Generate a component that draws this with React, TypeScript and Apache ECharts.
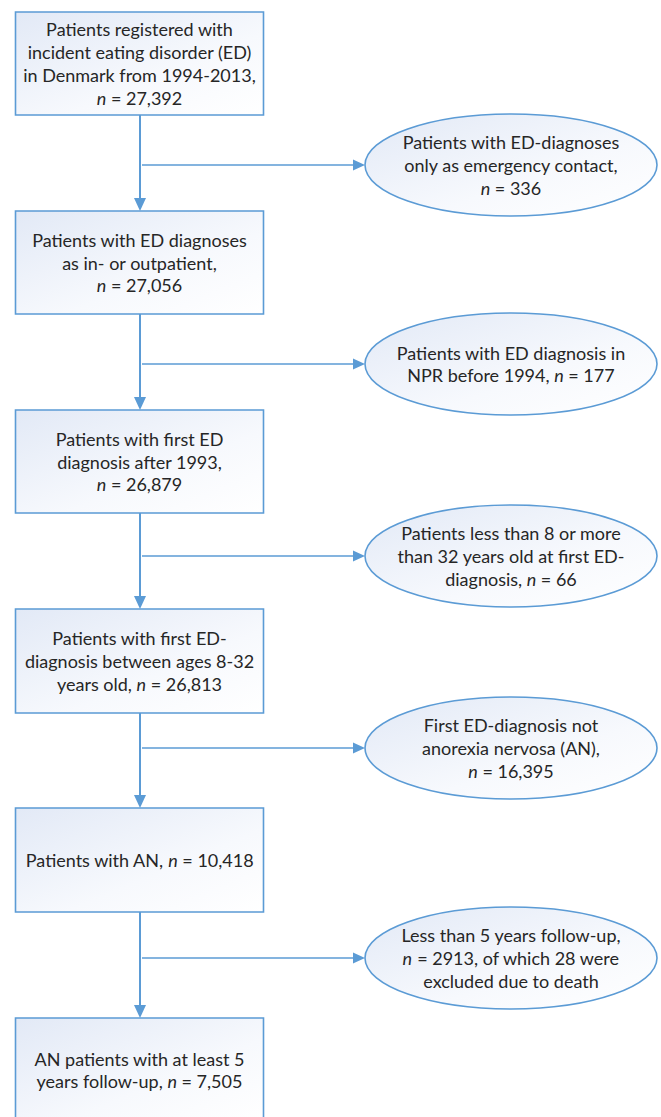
import React, { useEffect, useRef } from "react";
import * as echarts from "echarts";

const W = 661;
const H = 1117;

// ---- data ----
const mainLines: string[][] = [
  ["Patients registered with", "incident eating disorder (ED)", "in Denmark from 1994-2013,", "{i|n} = #"],
  ["Patients with ED diagnoses", "as in- or outpatient,", "{i|n} = #"],
  ["Patients with first ED", "diagnosis after 1993,", "{i|n} = #"],
  ["Patients with first ED-", "diagnosis between ages 8-32", "years old, {i|n} = #"],
  ["Patients with AN, {i|n} = #"],
  ["AN patients with at least 5", "years follow-up, {i|n} = #"],
];
const mainCounts = [27392, 27056, 26879, 26813, 10418, 7505];

const exclLines: string[][] = [
  ["Patients with ED-diagnoses", "only as emergency contact,", "{i|n} = #"],
  ["Patients with ED diagnosis in", "NPR before 1994, {i|n} = #"],
  ["Patients less than 8 or more", "than 32 years old at first ED-", "diagnosis, {i|n} = #"],
  ["First ED-diagnosis not", "anorexia nervosa (AN),", "{i|n} = #"],
  ["Less than 5 years follow-up,", "{i|n} = #, of which 28 were", "excluded due to death"],
];
const exclCounts = [336, 177, 66, 16395, 2913];
const exclUseSeparator = [true, true, true, true, false];

// ---- layout (axis units = pixels) ----
const BOX_X0 = 15.5;
const BOX_X1 = 263.5;
const STEM_X = 140;
const boxTop = [12, 211, 410, 609, 808, 1018];
const boxH = [103, 103, 103, 104, 104, 104];
const ELL_CX = 511;
const ELL_RX = 146;
const ELL_RY = 51;
const ellCy = [165, 364, 556, 748, 958];

// ---- style ----
const BLUE = "#5b9bd5";
const TEXT = "#262626";
const FONT = "Lato, 'Open Sans', sans-serif";
const FS = 18;
const LH = 22.8;

const fmt = (v: number, sep: boolean) => (sep ? v.toLocaleString("en-US") : String(v));

const gradient = () =>
  new echarts.graphic.LinearGradient(0, 0, 1, 1, [
    { offset: 0, color: "#e2e9f6" },
    { offset: 0.6, color: "#f7f9fd" },
    { offset: 1, color: "#ffffff" },
  ]);

const textStyle = (text: string, x: number, y: number) => ({
  text,
  x,
  y,
  align: "center",
  verticalAlign: "middle",
  fontFamily: FONT,
  fontSize: FS,
  fill: TEXT,
  lineHeight: LH,
  rich: {
    i: { fontStyle: "italic", fontFamily: FONT, fontSize: FS, fill: TEXT, lineHeight: LH },
  },
});

const option = {
  animation: false,
  grid: { left: 0, right: 0, top: 0, bottom: 0 },
  xAxis: { type: "value", min: 0, max: W, show: false },
  yAxis: { type: "value", min: 0, max: H, inverse: true, show: false },
  series: [
    {
      type: "custom",
      coordinateSystem: "cartesian2d",
      data: mainLines.map((_, i) => [i, 0]),
      renderItem: (_params: any, api: any) => {
        const i = api.value(0) as number;
        const p0 = api.coord([BOX_X0, boxTop[i]]);
        const p1 = api.coord([BOX_X1, boxTop[i] + boxH[i]]);
        const text = mainLines[i].join("\n").replace("#", fmt(mainCounts[i], true));
        const children: any[] = [
          {
            type: "rect",
            shape: { x: p0[0], y: p0[1], width: p1[0] - p0[0], height: p1[1] - p0[1] },
            style: { fill: gradient(), stroke: BLUE, lineWidth: 1.6 },
          },
          {
            type: "text",
            style: textStyle(text, (p0[0] + p1[0]) / 2, (p0[1] + p1[1]) / 2),
          },
        ];
        if (i < mainLines.length - 1) {
          const a = api.coord([STEM_X, boxTop[i] + boxH[i]]);
          const b = api.coord([STEM_X, boxTop[i + 1]]);
          children.push({
            type: "line",
            shape: { x1: a[0], y1: a[1], x2: b[0], y2: b[1] - 12 },
            style: { stroke: BLUE, lineWidth: 2 },
          });
          children.push({
            type: "polygon",
            shape: {
              points: [
                [b[0], b[1]],
                [b[0] - 6, b[1] - 13],
                [b[0] + 6, b[1] - 13],
              ],
            },
            style: { fill: BLUE },
          });
        }
        return { type: "group", children };
      },
      z: 2,
    },
    {
      type: "custom",
      coordinateSystem: "cartesian2d",
      data: exclLines.map((_, i) => [i, 0]),
      renderItem: (_params: any, api: any) => {
        const i = api.value(0) as number;
        const c = api.coord([ELL_CX, ellCy[i]]);
        const e = api.coord([ELL_CX + ELL_RX, ellCy[i] + ELL_RY]);
        const rx = e[0] - c[0];
        const ry = e[1] - c[1];
        const s = api.coord([STEM_X + 2, ellCy[i]]);
        const tipX = c[0] - rx;
        const text = exclLines[i].join("\n").replace("#", fmt(exclCounts[i], exclUseSeparator[i]));
        return {
          type: "group",
          children: [
            {
              type: "ellipse",
              shape: { cx: c[0], cy: c[1], rx, ry },
              style: { fill: gradient(), stroke: BLUE, lineWidth: 1.6 },
            },
            {
              type: "text",
              style: textStyle(text, c[0], c[1]),
            },
            {
              type: "line",
              shape: { x1: s[0], y1: s[1], x2: tipX - 11, y2: s[1] },
              style: { stroke: BLUE, lineWidth: 1.6 },
            },
            {
              type: "polygon",
              shape: {
                points: [
                  [tipX, s[1]],
                  [tipX - 12, s[1] - 5.5],
                  [tipX - 12, s[1] + 5.5],
                ],
              },
              style: { fill: BLUE },
            },
          ],
        };
      },
      z: 2,
    },
  ],
};

export default function App() {
  const ref = useRef<HTMLDivElement>(null);
  useEffect(() => {
    document.body.style.margin = "0";
    const chart = echarts.init(ref.current!, null, { renderer: "svg" });
    chart.setOption(option as any);
    return () => chart.dispose();
  }, []);
  return <div ref={ref} style={{ width: W, height: H, background: "#ffffff" }} />;
}
